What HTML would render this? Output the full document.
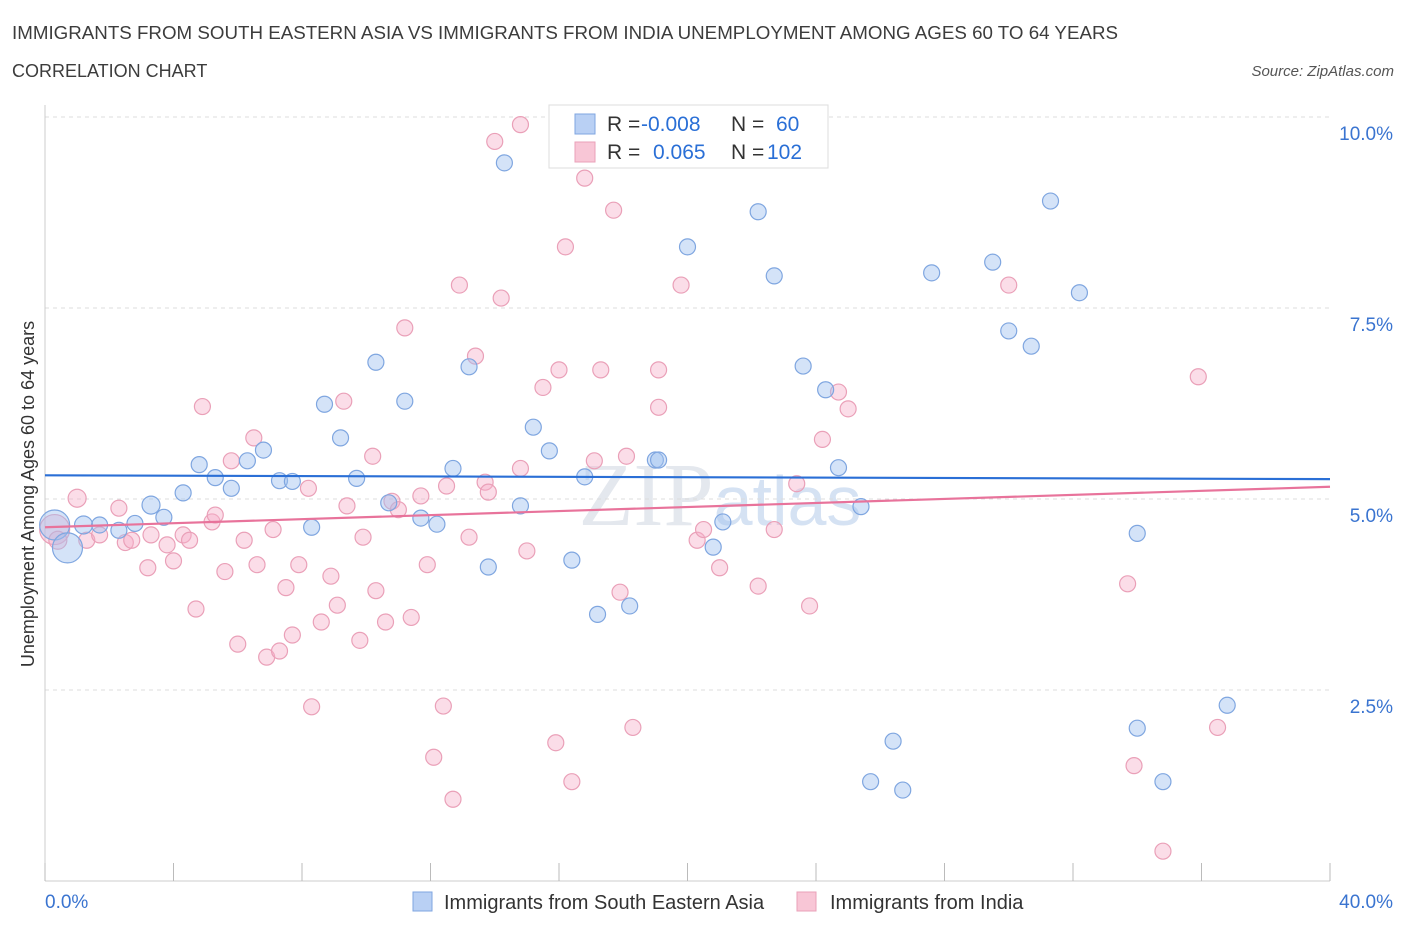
<!DOCTYPE html>
<html><head><meta charset="utf-8"><style>
body{margin:0;background:#fff;font-family:"Liberation Sans",sans-serif;}
svg{display:block}
</style></head><body>
<svg id="chart" width="1406" height="930">
<text x="12" y="39" font-size="18" fill="#3c3c3c" textLength="1106" lengthAdjust="spacingAndGlyphs">IMMIGRANTS FROM SOUTH EASTERN ASIA VS IMMIGRANTS FROM INDIA UNEMPLOYMENT AMONG AGES 60 TO 64 YEARS</text>
<text x="12" y="77" font-size="18" fill="#3c3c3c">CORRELATION CHART</text>
<text x="1394" y="76" font-size="15" fill="#555" font-style="italic" text-anchor="end">Source: ZipAtlas.com</text>
<text x="720" y="525" font-size="90" fill="#e4e8ee" text-anchor="middle" font-family="Liberation Serif,serif">ZIP<tspan font-family="Liberation Sans,sans-serif" font-size="70" fill="#d5e2f3">atlas</tspan></text>
<text transform="translate(34,494) rotate(-90)" font-size="18" fill="#333" text-anchor="middle">Unemployment Among Ages 60 to 64 years</text>
<g id="grid"></g><g id="axes"></g><g id="marks"></g>
<g>
<rect x="549" y="105" width="279" height="63" fill="#fff" stroke="#ddd"/>
<rect x="575" y="114" width="20" height="20" fill="#b9d0f4" stroke="#7fa6e0"/>
<rect x="575" y="142" width="20" height="20" fill="#f8c6d6" stroke="#eaa0b8"/>
<text x="607" y="131" font-size="21" fill="#333">R = <tspan x="641" fill="#2a6fd6">-0.008</tspan><tspan x="731">N = </tspan><tspan x="776" fill="#2a6fd6">60</tspan></text>
<text x="607" y="159" font-size="21" fill="#333">R = <tspan x="653" fill="#2a6fd6">0.065</tspan><tspan x="731">N = </tspan><tspan x="767" fill="#2a6fd6">102</tspan></text>
</g>
<g>
<rect x="413" y="892" width="19" height="19" fill="#b9d0f4" stroke="#7fa6e0"/>
<text x="444" y="909" font-size="20" fill="#333">Immigrants from South Eastern Asia</text>
<rect x="797" y="892" width="19" height="19" fill="#f8c6d6" stroke="#eaa0b8"/>
<text x="830" y="909" font-size="20" fill="#333">Immigrants from India</text>
</g>
</svg>
<script>
const yTicks=[2.5,5,7.5,10];
const yTickLabels=["2.5%","5.0%","7.5%","10.0%"];
const xTickLabels=["0.0%","40.0%"];
const blueX=[0.3,0.7,1.2,1.7,2.3,2.8,3.3,3.7,4.3,4.8,5.3,5.8,6.3,6.8,7.3,7.7,8.3,8.7,9.2,9.7,10.3,10.7,11.2,11.7,12.2,12.7,13.2,13.8,14.3,14.8,15.2,15.7,16.4,16.8,17.2,18.2,19.0,19.1,20.0,20.8,21.1,22.2,22.7,23.6,24.3,24.7,25.4,26.4,25.7,26.7,27.6,29.5,30.0,30.7,31.3,32.2,34.0,34.0,34.8,36.8];
const blueY=[4.66,4.36,4.66,4.66,4.59,4.68,4.92,4.76,5.08,5.45,5.28,5.14,5.50,5.64,5.24,5.23,4.63,6.24,5.80,5.27,6.79,4.95,6.28,4.75,4.67,5.40,6.73,4.11,9.40,4.91,5.94,5.63,4.20,5.29,3.49,3.60,5.51,5.51,8.30,4.37,4.70,8.76,7.92,6.74,6.43,5.41,4.90,1.83,1.30,1.19,7.96,8.10,7.20,7.00,8.90,7.70,4.55,2.00,1.30,2.30];
const blueR=[15,15,9,8,8,8,9,8,8,8,8,8,8,8,8,8,8,8,8,8,8,8,8,8,8,8,8,8,8,8,8,8,8,8,8,8,8,8,8,8,8,8,8,8,8,8,8,8,8,8,8,8,8,8,8,8,8,8,8,8];
const pinkX=[0.3,0.4,1.0,1.3,1.7,2.3,2.5,2.7,3.2,3.3,3.8,4.0,4.3,4.5,4.7,4.9,5.2,5.3,5.6,5.8,6.0,6.2,6.5,6.6,6.9,7.1,7.3,7.5,7.7,7.9,8.2,8.3,8.6,8.9,9.1,9.3,9.4,9.8,9.9,10.2,10.3,10.6,10.8,11.0,11.2,11.4,11.7,11.9,12.1,12.4,12.5,12.7,12.9,13.2,13.4,13.7,13.8,14.0,14.2,14.8,14.8,15.0,15.5,15.9,16.0,16.2,16.4,16.8,17.1,17.3,17.7,17.9,18.1,18.3,19.1,19.1,19.8,20.3,20.5,21.0,22.2,22.7,23.4,23.8,24.2,24.7,25.0,30.0,33.7,33.9,34.8,35.9,36.5];
const pinkY=[4.60,4.46,5.01,4.46,4.53,4.88,4.43,4.46,4.10,4.53,4.40,4.19,4.53,4.46,3.56,6.21,4.70,4.79,4.05,5.50,3.10,4.46,5.80,4.14,2.93,4.60,3.01,3.84,3.22,4.14,5.14,2.28,3.39,3.99,3.61,6.28,4.91,3.15,4.50,5.56,3.80,3.39,4.97,4.86,7.24,3.45,5.04,4.14,1.62,2.29,5.17,1.07,7.80,4.50,6.87,5.22,5.09,9.68,7.63,9.90,5.40,4.32,6.46,1.81,6.69,8.30,1.30,9.20,5.50,6.69,8.78,3.78,5.56,2.01,6.20,6.69,7.80,4.46,4.60,4.10,3.86,4.60,5.20,3.60,5.78,6.40,6.18,7.80,3.89,1.51,0.39,6.60,2.01];
const pinkR=[15,9,9,8,8,8,8,8,8,8,8,8,8,8,8,8,8,8,8,8,8,8,8,8,8,8,8,8,8,8,8,8,8,8,8,8,8,8,8,8,8,8,8,8,8,8,8,8,8,8,8,8,8,8,8,8,8,8,8,8,8,8,8,8,8,8,8,8,8,8,8,8,8,8,8,8,8,8,8,8,8,8,8,8,8,8,8,8,8,8,8,8,8];
const blueTrend=[5.31,5.26];
const pinkTrend=[4.63,5.16];
const xDomain=[0,40];
const NS="http://www.w3.org/2000/svg";
function xs(v){return 45+(v-xDomain[0])/(xDomain[1]-xDomain[0])*1285;}
function ys(v){return 881-v*76.4;}
function mk(tag,attrs,parent){const e=document.createElementNS(NS,tag);for(const k in attrs)e.setAttribute(k,attrs[k]);parent.appendChild(e);return e;}
const grid=document.getElementById('grid'),axes=document.getElementById('axes'),marks=document.getElementById('marks');
yTicks.forEach((t,i)=>{
 const l=mk('line',{x1:45,x2:1330,y1:ys(t),y2:ys(t),stroke:'#dcdcdc','stroke-dasharray':'4,4'},grid);
 
 
 const tx=mk('text',{x:1393,y:ys(t)+23,'font-size':19,fill:'#3a74d0','text-anchor':'end'},axes);
 tx.textContent=yTickLabels[i];
 
 
});
const xa=mk('line',{x1:45,x2:1330,y1:881,y2:881,stroke:'#ccc'},axes);


const ya=mk('line',{x1:45,x2:45,y1:105,y2:881,stroke:'#ccc'},axes);


for(let i=0;i<=10;i++){
 const t=mk('line',{x1:xs(i*4),x2:xs(i*4),y1:863,y2:881,stroke:'#bbb'},axes);
 
 
}
[[xDomain[0],'start',45],[xDomain[1],'end',1393]].forEach((d,i)=>{
 const tx=mk('text',{x:d[2],y:908,'font-size':19,fill:'#3a74d0','text-anchor':d[1]},axes);
 tx.textContent=xTickLabels[i];
 
 
});
function pts(X,Y,R,fill,stroke,name){
 X.forEach((x,i)=>{
  const c=mk('circle',{cx:xs(x),cy:ys(Y[i]),r:R[i],fill:fill,stroke:stroke,'stroke-width':1.2},marks);
  
  
 });
}
pts(pinkX,pinkY,pinkR,'rgba(246,175,200,0.42)','#eaa0b8','india-point');
pts(blueX,blueY,blueR,'rgba(160,192,240,0.45)','#7fa6e0','se-asia-point');
const bl=mk('line',{x1:xs(xDomain[0]),x2:xs(xDomain[1]),y1:ys(blueTrend[0]),y2:ys(blueTrend[1]),stroke:'#2a6fd6','stroke-width':2.2},marks);


const pl=mk('line',{x1:xs(xDomain[0]),x2:xs(xDomain[1]),y1:ys(pinkTrend[0]),y2:ys(pinkTrend[1]),stroke:'#e8739b','stroke-width':2.2},marks);


</script>
</body></html>
